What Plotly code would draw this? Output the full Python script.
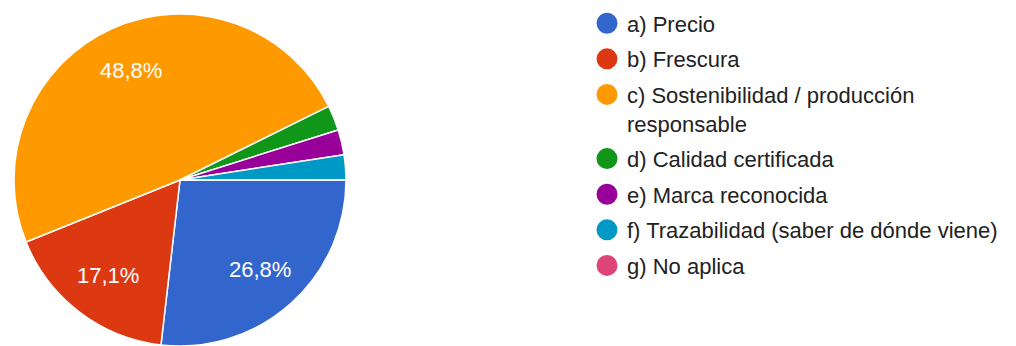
import math
import plotly.graph_objects as go

# Survey answers: what matters most when buying
categories = [
    "a) Precio",
    "b) Frescura",
    "c) Sostenibilidad / producción<br>responsable",
    "d) Calidad certificada",
    "e) Marca reconocida",
    "f) Trazabilidad (saber de dónde viene)",
    "g) No aplica",
]
responses = [11, 7, 20, 1, 1, 1, 0]
colors = ["#3366CC", "#DC3912", "#FF9900", "#109618", "#990099", "#0099C6", "#DD4477"]

W, H = 1016, 346
cx, cy, r = 180, 180, 166  # pie centre and radius in pixels
START_DEG = 90  # first slice begins at 3 o'clock, going clockwise

fig = go.Figure()
fig.add_trace(go.Pie(
    labels=categories,
    values=responses,
    sort=False,
    direction="clockwise",
    rotation=START_DEG,
    marker=dict(colors=colors, line=dict(color="white", width=1.5)),
    textinfo="none",
    showlegend=False,
    hoverinfo="label+percent",
    domain=dict(x=[(cx - r) / W, (cx + r) / W], y=[(H - cy - r) / H, (H - cy + r) / H]),
))

# percentage labels on the larger slices, placed along each slice's bisector
total = sum(responses)
acc = 0
for v in responses:
    share = v / total
    mid = (acc + v / 2) / total * 360  # degrees clockwise from 3 o'clock
    acc += v
    if share < 0.05:
        continue
    rad = math.radians(mid)
    px = cx + 0.72 * r * math.cos(rad)
    py = cy + 0.72 * r * math.sin(rad)
    fig.add_annotation(
        x=px / W, y=1 - py / H, xref="paper", yref="paper",
        text=f"{share * 100:.1f}%".replace(".", ","),
        showarrow=False, xanchor="center", yanchor="middle",
        font=dict(color="white", size=22, family="Arial"),
    )

# legend entries with round swatches
for name, col in zip(categories, colors):
    fig.add_trace(go.Scatter(
        x=[None], y=[None], mode="markers", name=name,
        marker=dict(symbol="circle", size=16, color=col, line=dict(color=col, width=5)),
        legendgroup=name,
    ))

fig.update_layout(
    width=W, height=H,
    margin=dict(l=0, r=0, t=0, b=0),
    paper_bgcolor="white", plot_bgcolor="white",
    xaxis=dict(visible=False), yaxis=dict(visible=False),
    legend=dict(
        x=587 / W, y=0.993, xanchor="left", yanchor="top",
        font=dict(size=22, family="Arial", color="#222222"),
        itemsizing="trace", tracegroupgap=4, valign="top",
        bgcolor="rgba(0,0,0,0)",
    ),
)

fig.write_html("out.html")
